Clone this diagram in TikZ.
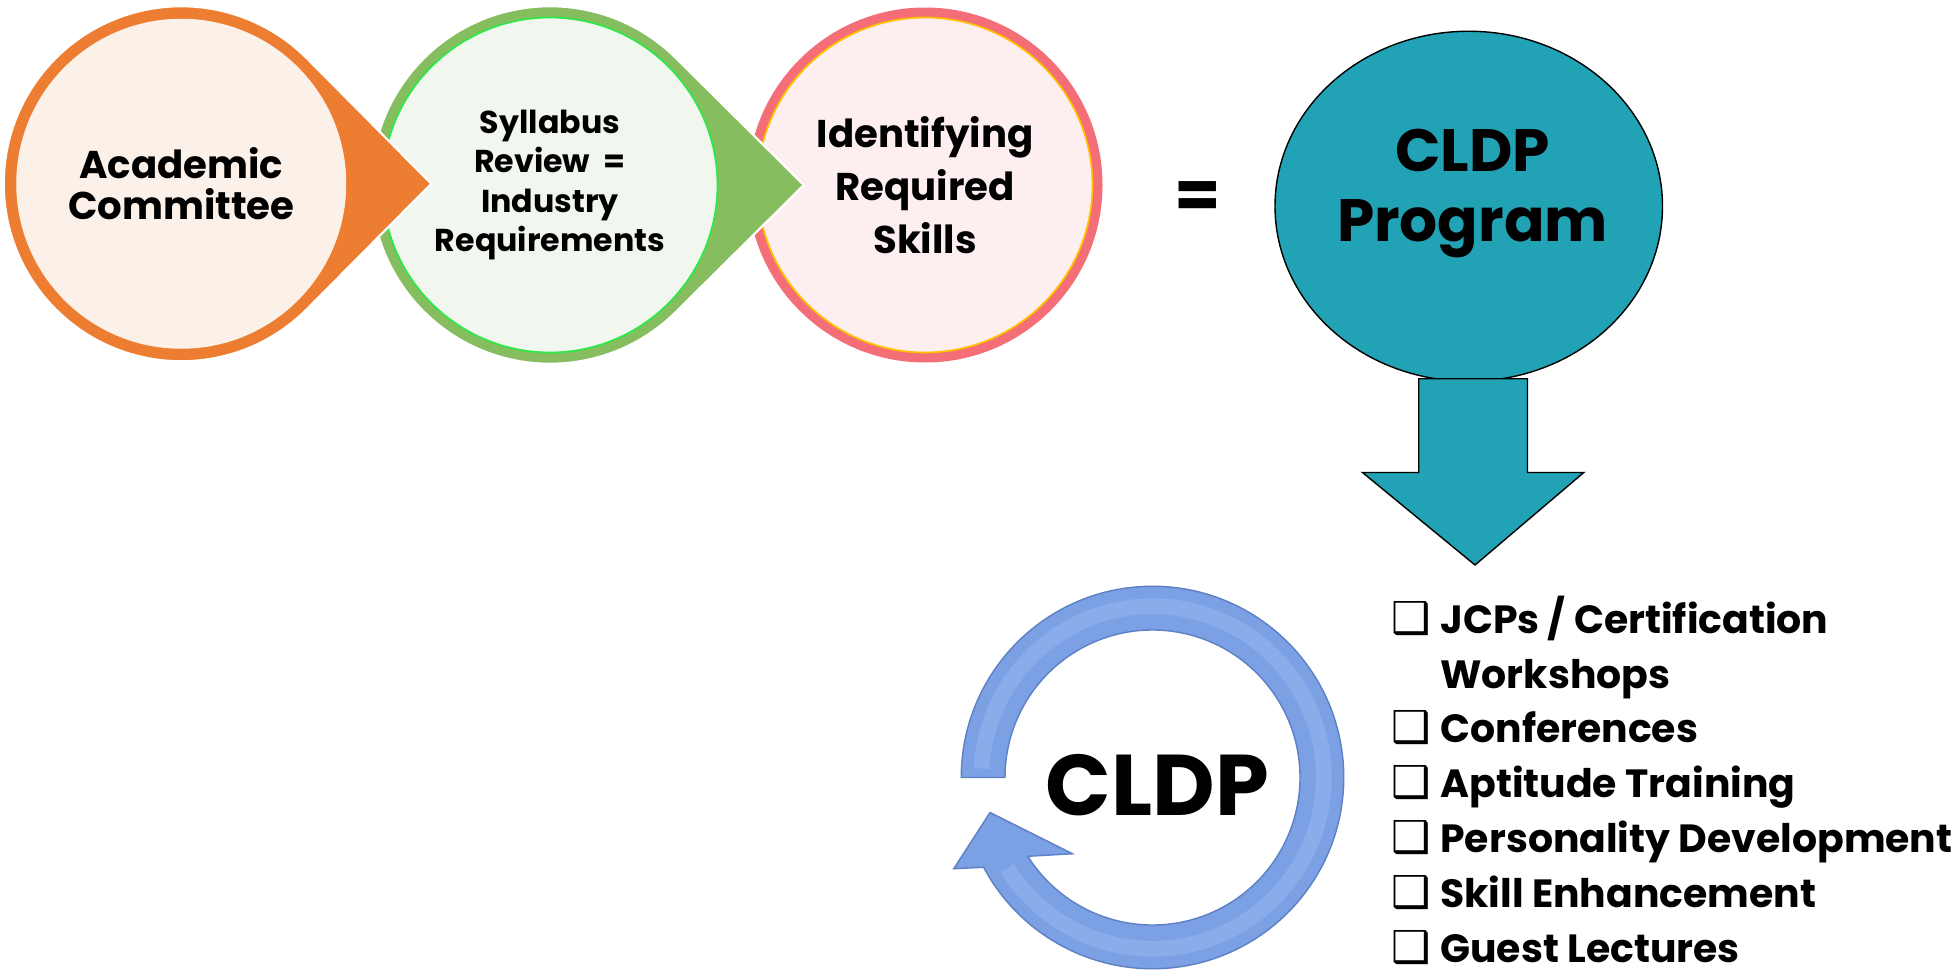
\documentclass[tikz,border=0pt]{standalone}
\usepackage{fontspec}
\setmainfont{Poppins}
\newfontfamily\symfont{DejaVu Sans}

\definecolor{acorange}{HTML}{ED7D31}
\definecolor{acpeach}{HTML}{FBF1E9}
\definecolor{sygreen}{HTML}{86BD5F}
\definecolor{symint}{HTML}{F1F7EE}
\definecolor{sylime}{HTML}{2EE84A}
\definecolor{skpink}{HTML}{F46E77}
\definecolor{skblush}{HTML}{FDEEEF}
\definecolor{skgold}{HTML}{FFC000}
\definecolor{progteal}{HTML}{22A3B5}
\definecolor{loopblue}{HTML}{7BA0E4}
\definecolor{loopedge}{HTML}{5E80C4}
\definecolor{loopshine}{HTML}{9DBBF2}

% circle with a pointed tip on its right: centre x, centre y, radius, tip x, colour
\newcommand{\teardrop}[5]{%
    \pgfmathsetmacro\tdang{acos(#3/(#4-#1))}
    \pgfmathsetmacro\tdx{#1+#3*cos(\tdang)}
    \pgfmathsetmacro\tdy{#2+#3*sin(\tdang)}
    \filldraw[fill=#5, draw=white, line width=1.2pt]
        (#4,#2) -- (\tdx,\tdy) arc[start angle=\tdang, end angle=360-\tdang, radius=#3] -- cycle;
}
% check box in front of each activity
\newcommand{\chkbox}{\makebox[0.975cm][l]{\symfont\fontsize{25}{26}\selectfont ❑}}

\begin{document}
\begin{tikzpicture}[x=0.025cm, y=-0.025cm,
    every node/.append style={font=\bfseries, align=center, inner sep=0pt},
    stagetext/.style={font=\bfseries\fontsize{22}{23.5}\selectfont},
    blockshape/.style={fill=progteal, draw=black, line width=0.8pt},
    listtext/.style={anchor=base west, font=\bfseries\fontsize{22.4}{26}\selectfont}]

    \useasboundingbox (0,0) rectangle (1567.2,778.4);

    \def\rin{132}

    % stage circles, drawn back to front
    \fill[skpink] (740,148) circle (142);
    \filldraw[fill=skblush, draw=skgold, line width=1pt] (740,148) circle (134);

    \teardrop{440}{148}{143}{643}{sygreen}
    \filldraw[fill=symint, draw=sylime, line width=1pt] (440,148) circle (134);

    \teardrop{145}{147}{142}{345}{acorange}
    \fill[acpeach] (145,147) circle (\rin);

    \node[stagetext] (acad) at (145,147) {Academic\\Committee};
    \node[stagetext, font=\bfseries\fontsize{18}{22.4}\selectfont] (sylla) at (440,148)
        {Syllabus\\Review\ \ =\\Industry\\Requirements};
    \node[stagetext, font=\bfseries\fontsize{22}{30}\selectfont] (ident) at (740,148)
        {Identifying\\Required\\Skills};

    \node[font=\bfseries\fontsize{38}{40}\selectfont] (equal) at (958,160) {=};

    % programme
    \draw[blockshape] (1175,165) ellipse [x radius=155, y radius=140];
    \node[font=\bfseries\fontsize{34}{40}\selectfont] (prog) at (1178,155) {CLDP\\Program};

    \draw[blockshape]
        (1135,303) -- (1222,303) -- (1222,378) -- (1267,378) -- (1180,452)
        -- (1090,378) -- (1135,378) -- cycle
    ;

    % cycle arrow
    \begin{scope}[shift={(922,622)}, y=0.025cm]
        \filldraw[fill=loopblue, draw=loopedge, line width=0.8pt]
            (180:153) arc[start angle=180, end angle=-152, radius=153]
            -- (-159,-73) -- (-130,-28) -- (-64,-61)
            -- (-147.7:118) arc[start angle=-147.7, end angle=180, radius=118] -- cycle
        ;
        \draw[loopshine, line width=9pt, opacity=0.45] (177:137) arc[start angle=177, end angle=-148, radius=137];
    \end{scope}
    \node[font=\bfseries\fontsize{49}{50}\selectfont] (cldp) at (926,628) {CLDP};

    % activities
    \foreach \y/\txt in {507/{\chkbox JCPs / Certification},
                         551/{\hspace{0.975cm}Workshops},
                         594/{\chkbox Conferences},
                         638/{\chkbox Aptitude Training},
                         682/{\chkbox Personality Development},
                         726/{\chkbox Skill Enhancement},
                         770/{\chkbox Guest Lectures}}
        \node[listtext] (act\y) at (1113,\y) {\txt};

\end{tikzpicture}
\end{document}
